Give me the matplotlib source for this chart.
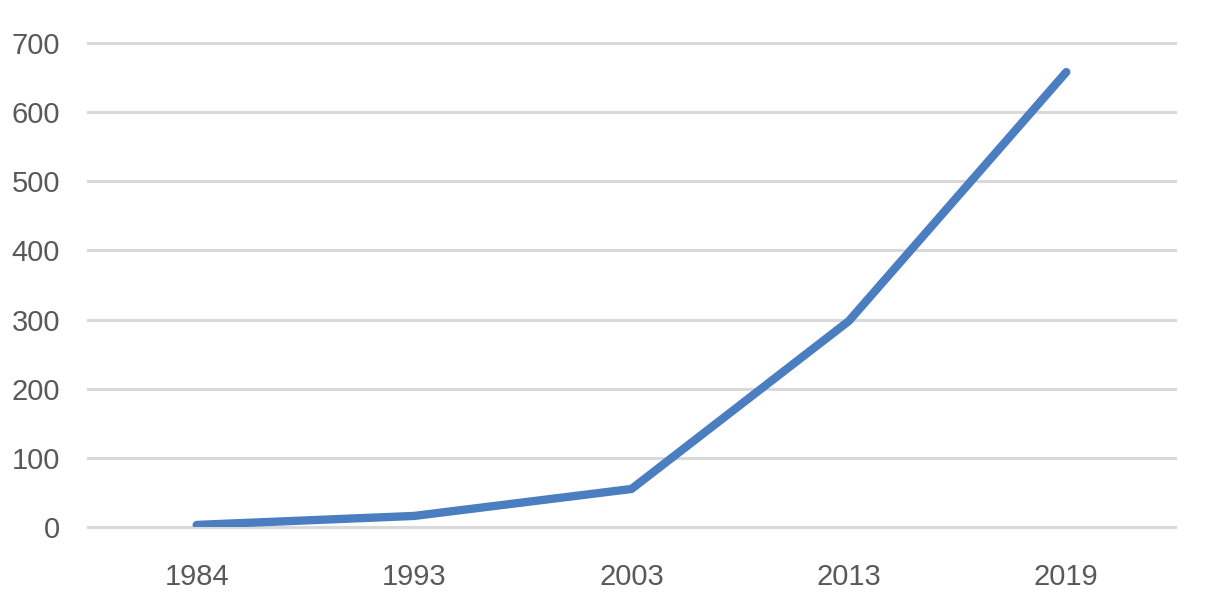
import matplotlib
matplotlib.use("Agg")
import matplotlib.pyplot as plt

years = ["1984", "1993", "2003", "2013", "2019"]
values = [3, 16, 55, 298, 658]
y_ticks = [0, 100, 200, 300, 400, 500, 600, 700]

plt.rcParams['font.family'] = ['Liberation Sans', 'DejaVu Sans']

fig = plt.figure(figsize=(12.09, 5.98), dpi=100)
ax = fig.add_axes([88 / 1209, 71 / 598, 1087 / 1209, 484 / 598])

ax.plot(range(len(years)), values, color='#4a7ec0', linewidth=6,
        solid_capstyle='round', solid_joinstyle='round', zorder=3)

ax.set_xlim(-0.5, len(years) - 0.5)
ax.set_ylim(0, 700)
ax.set_xticks(range(len(years)))
ax.set_xticklabels(years)
ax.set_yticks(y_ticks)

ax.grid(axis='y', color='#d9d9d9', linewidth=2.2)
for gl in ax.get_ygridlines():
    gl.set_clip_on(False)
ax.set_axisbelow(True)
for s in ax.spines.values():
    s.set_visible(False)
ax.tick_params(axis='both', length=0, labelsize=21, colors='#595959')
ax.tick_params(axis='y', pad=20)
ax.tick_params(axis='x', pad=26)

fig.savefig("out.png", dpi=100)
